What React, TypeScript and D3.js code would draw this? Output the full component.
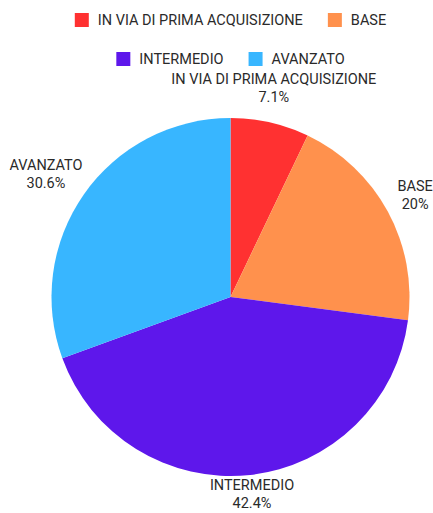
import React from "react";
import * as d3 from "d3";

const categories = ["IN VIA DI PRIMA ACQUISIZIONE", "BASE", "INTERMEDIO", "AVANZATO"];
const values = [7.1, 20, 42.4, 30.6];
const valueLabels = ["7.1%", "20%", "42.4%", "30.6%"];
const colors = ["#ff3131", "#ff914d", "#5e17eb", "#38b6ff"];
const legendRows = [[0, 1], [2, 3]];

const W = 433;
const H = 513;
const FONT = "Roboto, 'Noto Sans', sans-serif";
const FS = 14.5;

function textWidth(s: string): number {
  if (typeof document === "undefined") return s.length * 8;
  const c = document.createElement("canvas").getContext("2d");
  if (!c) return s.length * 8;
  c.font = `${FS}px Roboto`;
  return c.measureText(s).width;
}

export default function App() {
  const cx = 230.5;
  const cy = 297;
  const r = 179;
  const pie = d3.pie<number>().sort(null).value((d) => d);
  const arcs = pie(values);
  const arc = d3.arc<d3.PieArcDatum<number>>().innerRadius(0).outerRadius(r);

  const sq = 14;
  const gapText = 9;
  const gapItem = 25;
  const rowY = [20, 59];

  const lineH = 18;
  const blockH = lineH * 2;

  return (
    <svg
      width={W}
      height={H}
      style={{ position: "absolute", left: 0, top: 0, background: "#fff" }}
      fontFamily={FONT}
    >
      {legendRows.map((row, ri) => {
        const widths = row.map((i) => sq + gapText + textWidth(categories[i]));
        const total = widths.reduce((a, b) => a + b, 0) + gapItem * (row.length - 1);
        let x = cx - total / 2;
        return (
          <g key={ri}>
            {row.map((i, k) => {
              const x0 = x;
              x += widths[k] + gapItem;
              return (
                <g key={i}>
                  <rect x={x0} y={rowY[ri] - sq / 2} width={sq} height={sq} fill={colors[i]} />
                  <text
                    x={x0 + sq + gapText}
                    y={rowY[ri]}
                    dy="0.35em"
                    fontSize={FS}
                    fill="#2a2a2a"
                  >
                    {categories[i]}
                  </text>
                </g>
              );
            })}
          </g>
        );
      })}
      <g transform={`translate(${cx},${cy})`}>
        {arcs.map((a, i) => (
          <path key={i} d={arc(a) || ""} fill={colors[i]} />
        ))}
        {arcs.map((a, i) => {
          const ang = (a.startAngle + a.endAngle) / 2;
          const sx = Math.sin(ang);
          const sy = -Math.cos(ang);
          const w = Math.max(textWidth(categories[i]), textWidth(valueLabels[i]));
          const R = r + 17;
          const bx = R * sx + (Math.abs(sx) > 0.5 ? sx * w * 0.4 : 0);
          let by = R * sy + sy * blockH / 2;
          const maxY = H - cy - blockH / 2 - 1;
          if (by > maxY) by = maxY;
          return (
            <text
              key={i}
              x={bx}
              y={by}
              textAnchor="middle"
              fontSize={FS}
              fill="#2a2a2a"
            >
              <tspan x={bx} dy={-lineH / 2 + 5}>{categories[i]}</tspan>
              <tspan x={bx} dy={lineH}>{valueLabels[i]}</tspan>
            </text>
          );
        })}
      </g>
    </svg>
  );
}
